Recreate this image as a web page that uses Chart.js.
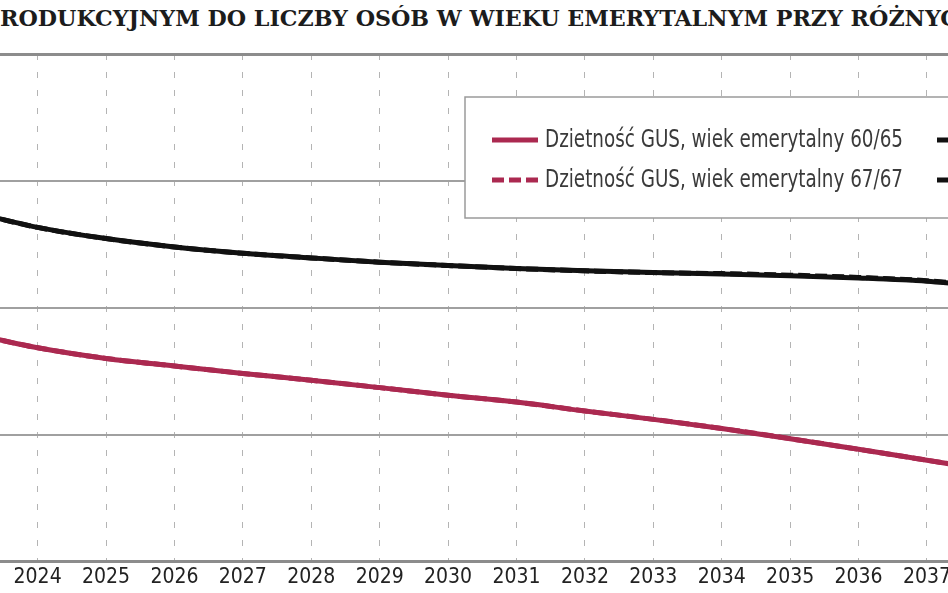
<!DOCTYPE html>
<html lang="pl">
<head>
<meta charset="utf-8">
<script src="https://cdn.jsdelivr.net/npm/chart.js@4.4.1/dist/chart.umd.min.js"></script>
<style>
html, body { margin: 0; padding: 0; background: #fff; overflow: hidden; width: 948px; height: 593px; position: relative; }
#title { position: absolute; left: 0; top: 4px; white-space: nowrap; font-family: "DejaVu Serif Condensed", "DejaVu Serif", serif; font-weight: bold; font-size: 23px; color: #1c1c1c; transform-origin: 0 0; }
#wrap { position: absolute; left: -65px; top: 0; width: 1163px; height: 593px; }
</style>
</head>
<body>
<div id="title">RODUKCYJNYM DO LICZBY OSÓB W WIEKU EMERYTALNYM PRZY RÓŻNYC</div>
<div id="wrap"><canvas id="c" width="1163" height="593"></canvas></div>
<script>
// data (years and ratio values)
const years = [2023, 2024, 2025, 2026, 2027, 2028, 2029, 2030, 2031, 2032, 2033, 2034, 2035, 2036, 2037, 2038];
const gus6065 = [1.90, 1.843, 1.801, 1.771, 1.742, 1.715, 1.686, 1.656, 1.629, 1.594, 1.561, 1.525, 1.485, 1.443, 1.400, 1.357];
const gus6767 = [1.90, 1.843, 1.801, 1.771, 1.742, 1.715, 1.686, 1.656, 1.629, 1.594, 1.561, 1.525, 1.485, 1.443, 1.400, 1.357];
const blk6065 = [2.38, 2.317, 2.273, 2.240, 2.215, 2.197, 2.180, 2.167, 2.155, 2.146, 2.139, 2.134, 2.127, 2.118, 2.105, 2.081];
const blk6767 = [2.38, 2.317, 2.273, 2.240, 2.215, 2.197, 2.180, 2.167, 2.155, 2.146, 2.139, 2.135, 2.129, 2.120, 2.107, 2.083];
const seriesLabels = [
    'Dzietność GUS, wiek emerytalny 60/65',
    'Dzietność GUS, wiek emerytalny 67/67',
    'Dzietność stała, wiek emerytalny 60/65',
    'Dzietność stała, wiek emerytalny 67/67'
];
const yTicks = [1.0, 1.5, 2.0, 2.5, 3.0];

const RED = '#AB2950';
const BLACK = '#111111';

const pts = (arr) => years.map((y, i) => ({ x: y, y: arr[i] }));

// title is cut at both sides in the reference: stretch it over the page width
const t = document.getElementById('title');
t.style.transform = 'scaleX(' + (958 / t.getBoundingClientRect().width) + ')';

// boxed legend in two columns, drawn over the plot
const boxLegend = {
    id: 'boxLegend',
    afterDraw(chart) {
        const ctx = chart.ctx;
        ctx.save();
        ctx.strokeStyle = '#9a9a9a';
        ctx.lineWidth = 1.5;
        ctx.fillStyle = '#fff';
        ctx.fillRect(530, 97, 700, 121);
        ctx.strokeRect(530, 97, 700, 121);
        ctx.font = '24px "DejaVu Sans Condensed", sans-serif';
        ctx.textBaseline = 'middle';
        // narrow the type so the first label spans the same width as in the picture
        const sx = 358 / ctx.measureText(chart.data.datasets[0].label).width;
        chart.data.datasets.forEach((ds, i) => {
            const x = i < 2 ? 557 : 1002;
            const y = i % 2 === 0 ? 140 : 180;
            ctx.strokeStyle = ds.borderColor;
            ctx.lineWidth = 5;
            ctx.setLineDash(ds.borderDash || []);
            ctx.beginPath();
            ctx.moveTo(x, y);
            ctx.lineTo(x + 46, y);
            ctx.stroke();
            ctx.setLineDash([]);
            ctx.save();
            ctx.translate(x + 53, y + 1);
            ctx.scale(sx, 1);
            ctx.fillStyle = '#3a3a3a';
            ctx.fillText(ds.label, 0, 0);
            ctx.restore();
        });
        ctx.restore();
    }
};

new Chart(document.getElementById('c'), {
    type: 'line',
    data: {
        datasets: [
            { label: seriesLabels[0], data: pts(gus6065), borderColor: RED, borderWidth: 5, order: 1 },
            { label: seriesLabels[1], data: pts(gus6767), borderColor: RED, borderWidth: 5, borderDash: [12, 5], order: 2 },
            { label: seriesLabels[2], data: pts(blk6065), borderColor: BLACK, borderWidth: 5, order: 3 },
            { label: seriesLabels[3], data: pts(blk6767), borderColor: BLACK, borderWidth: 5, borderDash: [12, 5], order: 4 }
        ]
    },
    options: {
        responsive: false,
        animation: false,
        layout: { padding: { top: 54, left: 0, right: 0, bottom: 0 } },
        elements: { point: { radius: 0 }, line: { cubicInterpolationMode: 'monotone', fill: false } },
        plugins: { legend: { display: false }, tooltip: { enabled: false }, title: { display: false } },
        scales: {
            x: {
                type: 'linear',
                min: 2022.5,
                max: 2039.5,
                afterBuildTicks: (axis) => { axis.ticks = years.concat([2039]).map(v => ({ value: v })); },
                ticks: {
                    callback: (v) => String(v),
                    color: '#222',
                    padding: 3,
                    maxRotation: 0,
                    autoSkip: false,
                    font: { family: '"DejaVu Sans Condensed", sans-serif', size: 21 }
                },
                grid: { color: '#b4b4b4', lineWidth: 1, drawTicks: false },
                border: { display: true, color: '#8c8c8c', width: 3, dash: [6, 12] }
            },
            y: {
                min: 1,
                max: 3,
                afterBuildTicks: (axis) => { axis.ticks = yTicks.map(v => ({ value: v })); },
                ticks: { display: false },
                grid: { color: (c) => c.tick && c.tick.value === 3 ? '#8c8c8c' : '#a0a0a0', lineWidth: (c) => c.tick && c.tick.value === 3 ? 3 : 2, drawTicks: false },
                border: { display: false }
            }
        }
    },
    plugins: [boxLegend]
});
</script>
</body>
</html>
